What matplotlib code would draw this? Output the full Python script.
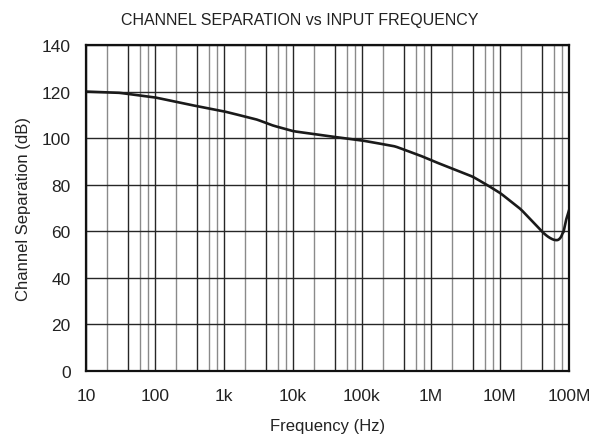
import numpy as np
import matplotlib.pyplot as plt
from matplotlib.ticker import FixedLocator, FixedFormatter

plt.rcParams['font.family'] = ['Liberation Sans', 'DejaVu Sans']

# curve (Hz, dB)
freq = [10, 30, 100, 300, 1e3, 3e3, 5e3, 1e4, 3e4, 1e5, 3e5, 7e5, 1e6, 2e6,
        4e6, 6.4e6, 1e7, 2e7, 3e7, 4e7, 5e7, 6.3e7, 7.5e7, 8.3e7, 9.1e7, 1e8]
sep = [120, 119.5, 117.5, 114.5, 111.5, 108, 105.5, 103, 101, 99, 96.5, 92.5, 90.5, 87,
       83.5, 80, 76.5, 69.5, 64, 60, 57.5, 56, 56.5, 59.5, 65, 69]

x_ticks = [10, 100, 1e3, 1e4, 1e5, 1e6, 1e7, 1e8]
x_labels = ['10', '100', '1k', '10k', '100k', '1M', '10M', '100M']
y_ticks = list(range(0, 141, 20))

fig = plt.figure(figsize=(6, 4.35), dpi=100)
ax = fig.add_axes([86 / 600, 1 - 372 / 435, 483 / 600, 326 / 435])

# smooth in log-frequency space
lx = np.log10(freq)
fine = np.linspace(lx[0], lx[-1], 700)
yy = np.interp(fine, lx, sep)
k = 9
ys = np.convolve(np.pad(yy, k // 2, mode='edge'), np.ones(k) / k, mode='valid')
ys[:k] = yy[:k]
ys[-k:] = yy[-k:]
ax.plot(10 ** fine, ys, color='#1a1a1a', linewidth=1.9, zorder=3)

ax.set_xscale('log')
ax.set_xlim(10, 1e8)
ax.set_ylim(0, 140)
ax.xaxis.set_major_locator(FixedLocator(x_ticks))
ax.xaxis.set_major_formatter(FixedFormatter(x_labels))
ax.xaxis.set_minor_locator(FixedLocator([]))
ax.set_yticks(y_ticks)

# vertical grid: decades and 4x darker, 2x/6x/8x grey
for d in range(1, 8):
    for m in (2, 4, 6, 8):
        col = '#262626' if m == 4 else '#8a8a8a'
        ax.axvline(m * 10 ** d, color=col, linewidth=1.0, zorder=1)
ax.grid(which='major', color='#262626', linewidth=1.0, zorder=1)
ax.tick_params(which='both', length=0, labelsize=12.5, colors='#222222')
ax.tick_params(axis='x', pad=12)
ax.tick_params(axis='y', pad=11)
for s in ax.spines.values():
    s.set_linewidth(1.6)
    s.set_color('#111111')
    s.set_zorder(4)

fig.text(0.5, 1 - 20 / 435, 'CHANNEL SEPARATION vs INPUT FREQUENCY', fontsize=11.5,
         color='#222222', ha='center', va='center')
ax.set_xlabel('Frequency (Hz)', fontsize=12, color='#222222', labelpad=11)
ax.set_ylabel('Channel Separation (dB)', fontsize=12, color='#222222', labelpad=8)

plt.savefig('out.png', dpi=100)
